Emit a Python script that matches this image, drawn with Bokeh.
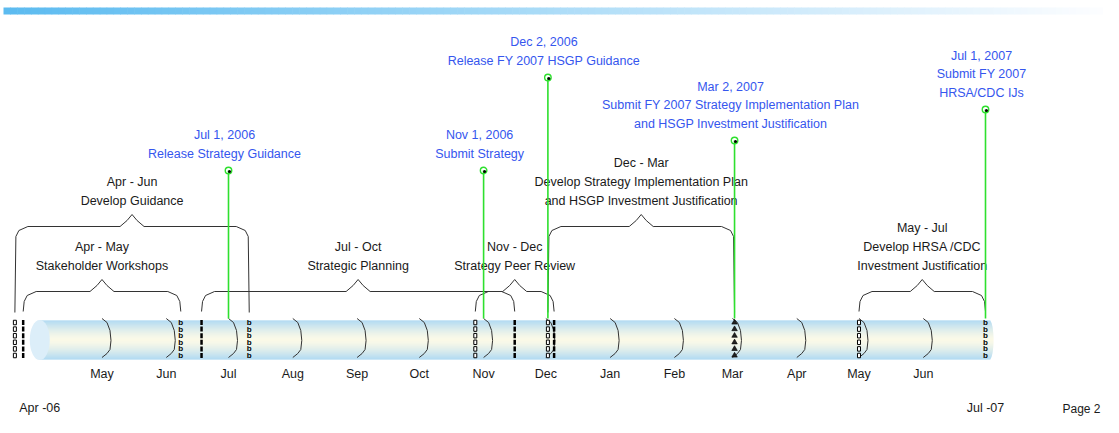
import math
import pandas as pd
from bokeh.plotting import figure
from bokeh.models import Range1d
from bokeh.embed import file_html
from bokeh.resources import INLINE
from bokeh.core.properties import value

# ---------------- data ----------------
TIMELINE_START = "2006-04-01"
TIMELINE_END = "2007-07-01"
END_LABELS = ["Apr -06", "Jul -07"]

MONTH_LABELS = ["May", "Jun", "Jul", "Aug", "Sep", "Oct", "Nov", "Dec",
                "Jan", "Feb", "Mar", "Apr", "May", "Jun"]
MONTH_DATES = ["2006-05-01", "2006-06-01", "2006-07-01", "2006-08-01",
               "2006-09-01", "2006-10-01", "2006-11-01", "2006-12-01",
               "2007-01-01", "2007-02-01", "2007-03-01", "2007-04-01",
               "2007-05-01", "2007-06-01"]

TASK_PERIODS = ["Apr - Jun", "Apr - May", "Jul - Oct", "Nov - Dec",
                "Dec - Mar", "May - Jul"]
TASK_NAMES = [["Develop Guidance"],
              ["Stakeholder Workshops"],
              ["Strategic Planning"],
              ["Strategy Peer Review"],
              ["Develop Strategy Implementation Plan",
               "and HSGP Investment Justification"],
              ["Develop HRSA /CDC", "Investment Justification"]]
TASK_STARTS = ["2006-03-20", "2006-03-24", "2006-06-18", "2006-10-28",
               "2006-12-02", "2007-05-01"]
TASK_ENDS = ["2006-07-11", "2006-06-08", "2006-11-16", "2006-12-05",
             "2007-03-02", "2007-07-01"]

MILESTONE_DATES = ["2006-07-01", "2006-11-01", "2006-12-02", "2007-03-02",
                   "2007-07-01"]
MILESTONE_DATE_TEXT = ["Jul 1, 2006", "Nov 1, 2006", "Dec 2, 2006",
                       "Mar 2, 2007", "Jul 1, 2007"]
MILESTONE_TEXT = [["Release Strategy Guidance"],
                  ["Submit Strategy"],
                  ["Release FY 2007 HSGP Guidance"],
                  ["Submit FY 2007 Strategy Implementation Plan",
                   "and HSGP Investment Justification"],
                  ["Submit FY 2007", "HRSA/CDC IJs"]]

PAGE_TEXT = "Page 2"

# ---------------- styles / layout ----------------
BRACE_TIER = ["high", "low", "low", "low", "high", "low"]
START_MARK = ["box", "filled", "filled", "box", "box", "box"]
END_MARK = ["b", "b", "filled", "filled", "tri", "b"]
MILESTONE_TOP = [170, 170, 77, 140, 109]

FONT = value("Liberation Sans")
FS = "12.5px"
BLACK = "#1a1a1a"
BLUE = "#3556EE"
GREEN = "#2EE02E"

W, H = 1103, 417
PPD = 757.0 / 365.0
MS_PER_PX = 86400000.0 / PPD


def ms(d):
    return pd.Timestamp(d).value / 1e6


ANCHOR = ms("2006-07-01")
X0 = ANCHOR - 228 * MS_PER_PX
X1 = X0 + W * MS_PER_PX


def px(v):
    return (v - X0) / MS_PER_PX


def xm(cpx):
    return X0 + cpx * MS_PER_PX


def hexc(c):
    return "#%02x%02x%02x" % tuple(int(round(v)) for v in c)


def mix(a, b, t):
    return tuple(a[i] + (b[i] - a[i]) * t for i in range(3))


p = figure(width=W, height=H, x_range=Range1d(X0, X1),
           y_range=Range1d(H, 0), output_backend="svg",
           toolbar_location=None, min_border=0,
           x_axis_location=None, y_axis_location=None)
p.grid.visible = False
p.outline_line_color = None
p.background_fill_color = "white"
p.border_fill_color = "white"

# ---- top gradient bar ----
N = 160
lefts, rights, cols = [], [], []
span = W - 3
for i in range(N):
    a = 3 + i * (span / N)
    b = 3 + (i + 1) * (span / N) + 0.6
    lefts.append(xm(a))
    rights.append(xm(b))
    cols.append(hexc(mix((92, 187, 240), (252, 253, 255), i / (N - 1))))
p.quad(left=lefts, right=rights, top=[7] * N, bottom=[14] * N,
       fill_color=cols, line_color=None)

# ---- tube ----
t_start = ms(TIMELINE_START)
t_end = ms(TIMELINE_END)
blue = (150, 205, 238)
cream = (250, 248, 224)
L, R, T, B, C = [], [], [], [], []
rows = 39
for i in range(rows):
    yc = 320 + i + 0.5
    d = abs((yc - 320) / rows - 0.5) * 2
    col = mix(cream, blue, d ** 1.4)
    endpx = px(t_end) + 4 + 4 * math.sqrt(max(0.0, 1 - d * d))
    L.append(t_start)
    R.append(xm(endpx))
    T.append(320 + i)
    B.append(320 + i + 1.05)
    C.append(hexc(col))
p.quad(left=L, right=R, top=T, bottom=B, fill_color=C, line_color=None)
p.ellipse(x=[t_start], y=[339.5], width=20, height=40,
          width_units="screen", height_units="screen",
          fill_color="#DCEEF9", line_color=None)

# ---- month arcs ----
arc_off = [(0, 318), (5, 322), (8, 330), (9, 340), (8, 349), (5, 353), (0, 357)]
axs, ays = [], []
for d in MONTH_DATES:
    bx = px(ms(d))
    axs.append([xm(bx + dx) for dx, _ in arc_off])
    ays.append([dy for _, dy in arc_off])
p.multi_line(xs=axs, ys=ays, line_color="#333333", line_width=1)

# ---- month labels ----
p.text(x=[ms(d) for d in MONTH_DATES], y=[373] * len(MONTH_DATES),
       text=MONTH_LABELS, text_align="center", text_baseline="middle",
       text_font=FONT, text_font_size=FS, text_color=BLACK)
p.text(x=[t_start, t_end], y=[407, 407], text=END_LABELS,
       text_align="center", text_baseline="middle",
       text_font=FONT, text_font_size=FS, text_color=BLACK)

# ---- braces + task labels ----
bxs, bys = [], []
tx, ty, tt = [], [], []
for i in range(len(TASK_STARTS)):
    x0 = px(ms(TASK_STARTS[i]))
    x1 = px(ms(TASK_ENDS[i]))
    xc = (x0 + x1) / 2
    if BRACE_TIER[i] == "high":
        yh, yb = 226, 312
    else:
        yh, yb = 291, 311
    pts = [(x0, yb), (x0 + 1, yh + 10), (x0 + 4, yh + 4), (x0 + 13, yh),
           (xc - 12, yh), (xc - 5, yh - 6), (xc, yh - 12), (xc + 5, yh - 6),
           (xc + 12, yh), (x1 - 13, yh), (x1 - 4, yh + 4), (x1 - 1, yh + 10),
           (x1, yb)]
    bxs.append([xm(a) for a, _ in pts])
    bys.append([b for _, b in pts])
    lines = [TASK_PERIODS[i]] + TASK_NAMES[i]
    tip = yh - 12
    n = len(lines)
    for k, s in enumerate(lines):
        tx.append(xm(xc))
        ty.append(tip - 14 - 19 * (n - 1 - k))
        tt.append(s)
p.multi_line(xs=bxs, ys=bys, line_color="#333333", line_width=1)
p.text(x=tx, y=ty, text=tt, text_align="center", text_baseline="middle",
       text_font=FONT, text_font_size=FS, text_color=BLACK)

# ---- milestones ----
mxs, mys = [], []
lx, ly, lt = [], [], []
dotx, doty = [], []
for i, d in enumerate(MILESTONE_DATES):
    x = ms(d)
    top = MILESTONE_TOP[i]
    mxs.append([x, x])
    mys.append([top, 318])
    dotx.append(x)
    doty.append(top)
    lines = [MILESTONE_DATE_TEXT[i]] + MILESTONE_TEXT[i]
    n = len(lines)
    for k, s in enumerate(lines):
        lx.append(xm(px(x) - 4))
        ly.append(top - 17 - 18.5 * (n - 1 - k))
        lt.append(s)
p.multi_line(xs=mxs, ys=mys, line_color=GREEN, line_width=1.6)

# ---- task start / end markers ----
mark_y = [322 + 6.6 * k for k in range(6)]
box_x, box_y, fil_x, fil_y, b_x, b_y, tri_x, tri_y = ([] for _ in range(8))
for i in range(len(TASK_STARTS)):
    for d, style in ((TASK_STARTS[i], START_MARK[i]), (TASK_ENDS[i], END_MARK[i])):
        x = ms(d)
        for yy in mark_y:
            if style == "box":
                box_x.append(x); box_y.append(yy)
            elif style == "filled":
                fil_x.append(x); fil_y.append(yy)
            elif style == "b":
                b_x.append(x); b_y.append(yy)
            else:
                tri_x.append(x); tri_y.append(yy)
p.rect(x=box_x, y=box_y, width=3, height=4.5, width_units="screen",
       height_units="screen", fill_color="white", line_color="black",
       line_width=1)
p.rect(x=fil_x, y=fil_y, width=2.5, height=5, width_units="screen",
       height_units="screen", fill_color="black", line_color=None)
p.scatter(x=tri_x, y=tri_y, marker="triangle", size=5.5,
          fill_color="#222222", line_color="black", line_width=0.6)
p.text(x=b_x, y=b_y, text=["b"] * len(b_x), text_align="center",
       text_baseline="middle", text_font=FONT, text_font_size="8px",
       text_font_style="bold", text_color="black")

# ---- milestone texts and dots ----
p.text(x=lx, y=ly, text=lt, text_align="center", text_baseline="middle",
       text_font=FONT, text_font_size=FS, text_color=BLUE)
p.scatter(x=dotx, y=doty, marker="circle", size=6.5, fill_color=None,
          line_color=GREEN, line_width=1.4)
p.scatter(x=[xm(px(v) + 1) for v in dotx], y=[v + 1 for v in doty],
          marker="circle", size=3, fill_color="black", line_color=None)

# ---- page number ----
p.text(x=[xm(W - 3)], y=[H - 2], text=[PAGE_TEXT], text_align="right",
       text_baseline="bottom", text_font=FONT, text_font_size="12px",
       text_color=BLACK)

open("out.html", "w").write(file_html(p, INLINE))
